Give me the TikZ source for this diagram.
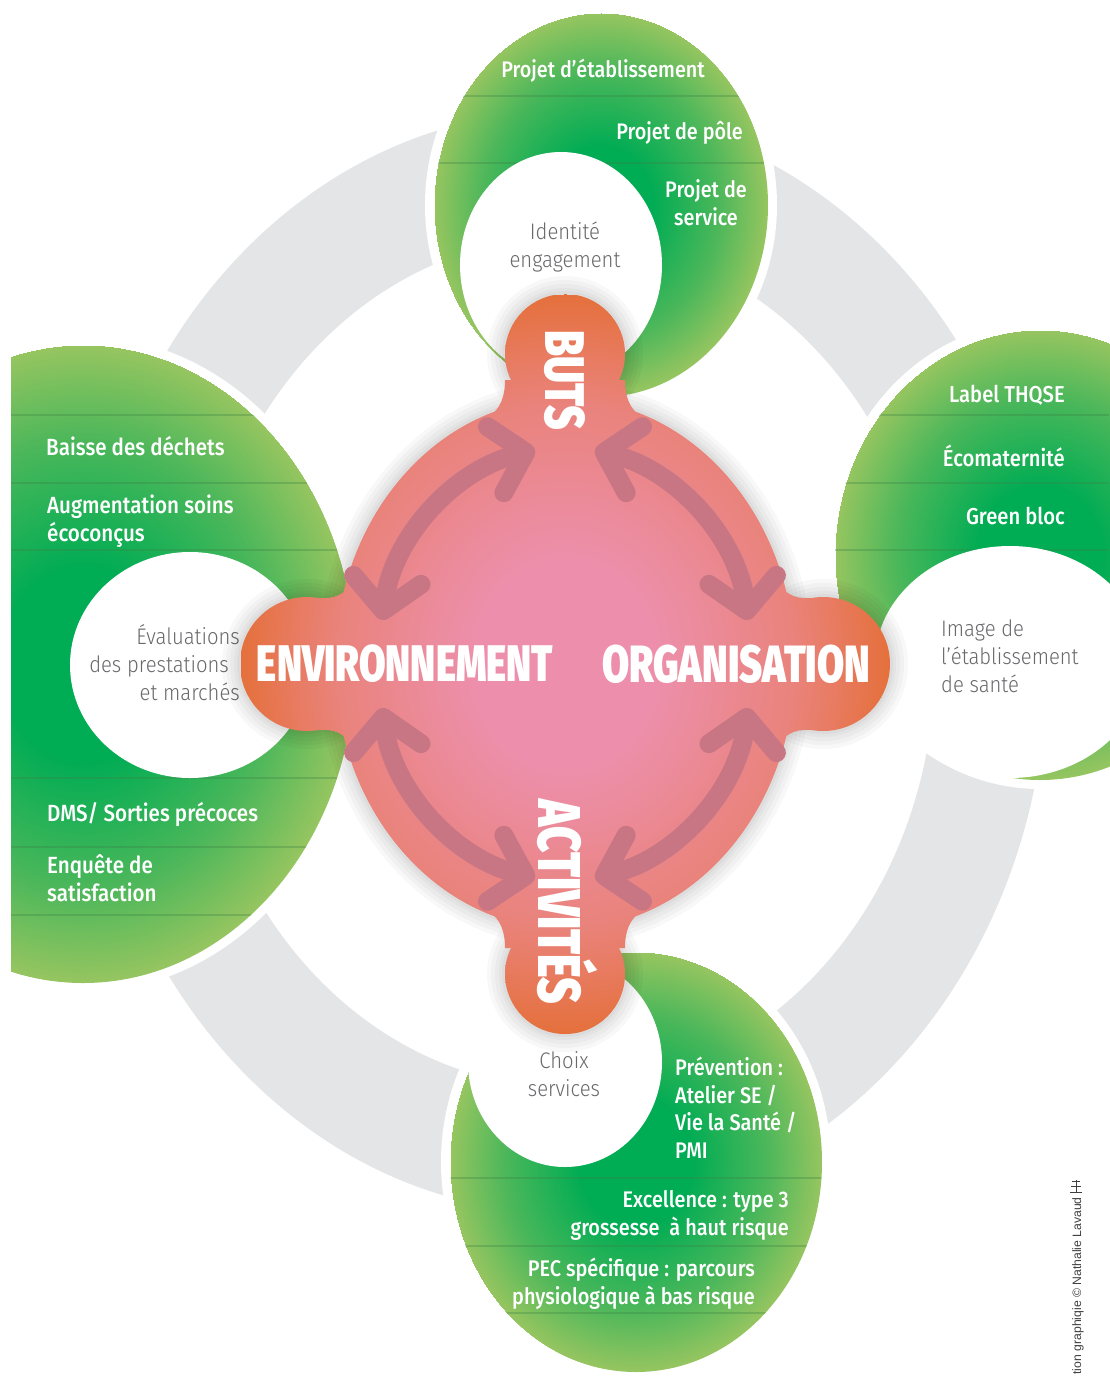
\documentclass[tikz,border=0pt]{standalone}
\usepackage{fontspec}
\usepackage{graphicx}
\usetikzlibrary{arrows.meta}
\setmainfont{Fira Sans}
\IfFontExistsTF{Fira Sans Light}{\newfontfamily\lightf{Fira Sans Light}[FakeStretch=0.9]}{\newfontfamily\lightf{Fira Sans}[FakeStretch=0.9]}
\IfFontExistsTF{Fira Sans Medium}{\newfontfamily\medf{Fira Sans Medium}[FakeStretch=0.88]}{\newfontfamily\medf{Fira Sans}[FakeStretch=0.88]}
\IfFontExistsTF{Fira Sans Black}
 {\newfontfamily\bigf{Fira Sans Black}[FakeStretch=0.75]\newcommand\bigsel{\bigf}}
 {\IfFontExistsTF{Fira Sans ExtraBold}
   {\newfontfamily\bigf{Fira Sans ExtraBold}[FakeStretch=0.76,FakeBold=1.5]\newcommand\bigsel{\bigf}}
   {\newfontfamily\bigf{Fira Sans}[FakeStretch=0.77,BoldFeatures={FakeBold=3}]\newcommand\bigsel{\bigf\bfseries}}}
\newfontfamily\credf{Liberation Sans}

\definecolor{ringgrey}{RGB}{228,229,231}
\definecolor{gdark}{RGB}{0,172,84}
\definecolor{gmid}{RGB}{75,183,90}
\definecolor{glight}{RGB}{150,197,96}
\definecolor{pk1}{RGB}{237,143,172}
\definecolor{pk2}{RGB}{233,131,124}
\definecolor{pk3}{RGB}{232,124,100}
\definecolor{pk4}{RGB}{229,112,60}
\definecolor{arrowc}{RGB}{201,118,132}
\definecolor{txtgrey}{RGB}{105,105,108}
\definecolor{divc}{RGB}{60,130,70}

\pgfdeclareradialshading{greenrad}{\pgfpoint{0bp}{0bp}}{color(0bp)=(gdark); color(15bp)=(gdark); color(35bp)=(gmid); color(50bp)=(glight)}
\pgfdeclareradialshading{pinkrad}{\pgfpoint{0bp}{0bp}}{color(0bp)=(pk1); color(14bp)=(pk1); color(35bp)=(pk2); color(41bp)=(pk3); color(50bp)=(pk4)}

\newcommand\softshadow[1]{\foreach \ww in {36,28,20,12,6}{\draw[black, draw opacity=0.028, line width=\ww pt] #1;}}
% pink piece: clip, then radial shading centred on the blob centre
\newcommand\pinkpiece[1]{\begin{scope}\clip #1;
  \begin{pgfscope}\pgftransformshift{\pgfpointxy{565}{664}}\pgftransformxscale{6.4757}\pgftransformyscale{7.3724}\pgflowlevelsynccm\pgfuseshading{pinkrad}\end{pgfscope}
  \end{scope}}
% green ellipse with radial shading: cx, cy, a, b
\newcommand\greenell[4]{\begin{scope}\clip (#1,#2) ellipse [x radius=#3, y radius=#4];
  \begin{pgfscope}\pgftransformshift{\pgfpointxy{#1}{#2}}%
  \pgfmathsetmacro\gsx{#3/50.1875}\pgfmathsetmacro\gsy{#4/50.1875}%
  \pgftransformxscale{\gsx}\pgftransformyscale{\gsy}\pgflowlevelsynccm\pgfuseshading{greenrad}\end{pgfscope}
  \end{scope}}

\tikzset{
  divider/.style={draw=divc, draw opacity=0.32, line width=1.3pt},
  gtxt/.style={text=white, inner sep=0pt, font=\medf\fontsize{#1}{#1}\selectfont},
  wtxt/.style={text=txtgrey, inner sep=0pt, font=\lightf\fontsize{22.5}{27}\selectfont},
  bigw/.style={text=white, inner sep=0pt, font=\bigsel\fontsize{60}{60}\selectfont},
  arr/.style={draw=arrowc, line width=19pt, {Straight Barb[length=31pt,width=68pt,round]}-{Straight Barb[length=31pt,width=68pt,round]}},
  gapwhite/.style={fill=white}
}

\begin{document}
\begin{tikzpicture}[x=1pt,y=-1pt]
\useasboundingbox (0,0) rectangle (1109,1376);
\fill[white] (0,0) rectangle (1109,1376);

% grey ring
\fill[ringgrey, even odd rule] (565,662) ellipse [x radius=482, y radius=551] (565,662) ellipse [x radius=370, y radius=425];

% ---------- top blob (BUTS)
\fill[gapwhite] (601,205) ellipse [x radius=176, y radius=201];
\greenell{601}{205}{167}{192}
\begin{scope}
  \clip (601,205) ellipse [x radius=167, y radius=192];
  \draw[divider] (420,96) -- (790,96) (420,163) -- (790,163);
\end{scope}
\fill[white] (561,265) ellipse [x radius=101, y radius=113];

% ---------- left blob (ENVIRONNEMENT)
\begin{scope}
  \clip (11,0) rectangle (1109,1376);
  \fill[gapwhite] (83,664) ellipse [x radius=281, y radius=328];
  \greenell{83}{664}{272}{319}
  \clip (83,664) ellipse [x radius=272, y radius=319];
  \draw[divider] (0,415) -- (400,415) (0,483) -- (400,483) (0,550) -- (400,550)
                 (0,778) -- (400,778) (0,847) -- (400,847) (0,915) -- (400,915);
\end{scope}
\fill[white] (190,665) ellipse [x radius=120, y radius=113];

% ---------- right blob (ORGANISATION)
\fill[gapwhite] (1040,555) ellipse [x radius=214, y radius=234];
\greenell{1040}{555}{205}{225}
\begin{scope}
  \clip (1040,555) ellipse [x radius=205, y radius=225];
  \draw[divider] (800,415) -- (1109,415) (800,483) -- (1109,483) (800,550) -- (1109,550);
\end{scope}
\fill[white] (1010,662) ellipse [x radius=135, y radius=116];

% ---------- bottom blob (ACTIVITES)
\fill[gapwhite] (636,1162) ellipse [x radius=195, y radius=219];
\greenell{636}{1162}{186}{210}
\begin{scope}
  \clip (636,1162) ellipse [x radius=186, y radius=210];
  \draw[divider] (440,1178) -- (830,1178) (440,1246) -- (830,1246) (440,1313) -- (830,1313);
\end{scope}
\fill[white] (565,1062) ellipse [x radius=97, y radius=105];

% ---------- green texts
\node[gtxt=22.5, anchor=base east] (p1) at (705,77) {Projet d’établissement};
\node[gtxt=22.5, anchor=base east] (p2) at (743,139) {Projet de pôle};
\node[gtxt=22.5, anchor=base] (p3) at (706,197) {Projet de};
\node[gtxt=22.5, anchor=base] (p4) at (706,225) {service};

\node[gtxt=23.4, anchor=base west] (l1) at (46,455) {Baisse des déchets};
\node[gtxt=23.4, anchor=base west] (l2) at (47,513) {Augmentation soins};
\node[gtxt=23.4, anchor=base west] (l3) at (47,541) {écoconçus};
\node[gtxt=23.4, anchor=base west] (l4) at (47,821) {DMS/ Sorties précoces};
\node[gtxt=23.4, anchor=base west] (l5) at (47,873) {Enquête de};
\node[gtxt=23.4, anchor=base west] (l6) at (47,901) {satisfaction};

\node[gtxt=23, anchor=base east] (r1) at (1065,402) {Label THQSE};
\node[gtxt=23, anchor=base east] (r2) at (1065,466) {Écomaternité};
\node[gtxt=23, anchor=base east] (r3) at (1065,524) {Green bloc};

\node[gtxt=22.6, anchor=base west] (b1) at (675,1075) {Prévention :};
\node[gtxt=22.6, anchor=base west] (b2) at (675,1103) {Atelier SE /};
\node[gtxt=22.6, anchor=base west] (b3) at (675,1130) {Vie la Santé /};
\node[gtxt=22.6, anchor=base west] (b4) at (675,1158) {PMI};
\node[gtxt=22.6, anchor=base east] (b5) at (789,1207) {Excellence : type 3};
\node[gtxt=22.6, anchor=base east] (b6) at (789,1235) {grossesse \ à haut risque};
\node[gtxt=22.6, anchor=base east] (b7) at (755,1276) {PEC spécifique : parcours};
\node[gtxt=22.6, anchor=base east] (b8) at (755,1304) {physiologique à bas risque};

% ---------- grey texts in white ellipses
\node[wtxt, anchor=base] (w1) at (565,239) {Identité};
\node[wtxt, anchor=base] (w2) at (565,267) {engagement};
\node[wtxt, anchor=base east] (w3) at (240,644) {Évaluations};
\node[wtxt, anchor=base east] (w4) at (229,672) {des prestations};
\node[wtxt, anchor=base east] (w5) at (240,700) {et marchés};
\node[wtxt, anchor=base west] (w6) at (941,636) {Image de};
\node[wtxt, anchor=base west] (w7) at (941,664) {l’établissement};
\node[wtxt, anchor=base west] (w8) at (941,692) {de santé};
\node[wtxt, anchor=base] (w9) at (564,1068) {Choix};
\node[wtxt, anchor=base] (w10) at (564,1096) {services};

% ---------- central pink blob
\softshadow{(565,664) ellipse [x radius=230, y radius=265]}
\softshadow{(565,354) circle [radius=60]}
\softshadow{(565,974) circle [radius=60]}
\softshadow{(307,664) circle [radius=67]}
\softshadow{(823,664) circle [radius=67]}

\pinkpiece{(565,664) ellipse [x radius=230, y radius=265]}
\pinkpiece{(565,354) circle [radius=60]}
\pinkpiece{(565,974) circle [radius=60]}
\pinkpiece{(307,664) circle [radius=67]}
\pinkpiece{(823,664) circle [radius=67]}
\pinkpiece{(505,380) .. controls (505,398) and (500,408) .. (490,416) -- (640,416) .. controls (630,408) and (625,398) .. (625,380) -- cycle}
\pinkpiece{(505,948) .. controls (505,930) and (500,920) .. (490,912) -- (640,912) .. controls (630,920) and (625,930) .. (625,948) -- cycle}
\pinkpiece{(318,598) .. controls (333,599) and (342,596) .. (352,584) -- (352,744) .. controls (342,732) and (333,729) .. (318,730) -- cycle}
\pinkpiece{(812,598) .. controls (797,599) and (788,596) .. (778,584) -- (778,744) .. controls (788,732) and (797,729) .. (812,730) -- cycle}

% ---------- arrows
\coordinate (tl1) at (535,450); \coordinate (tl2) at (382,620);
\coordinate (tr1) at (595,450); \coordinate (tr2) at (748,620);
\coordinate (bl1) at (382,708); \coordinate (bl2) at (535,878);
\coordinate (br1) at (748,708); \coordinate (br2) at (595,878);
\draw[arr] (tl1) .. controls (454,470) and (393,537) .. (tl2);
\draw[arr] (tr1) .. controls (676,470) and (737,537) .. (tr2);
\draw[arr] (bl1) .. controls (393,791) and (454,858) .. (bl2);
\draw[arr] (br1) .. controls (737,791) and (676,858) .. (br2);

% ---------- big words
\node[bigw] (env) at (405,664) {\resizebox{296pt}{!}{ENVIRONNEMENT}};
\node[bigw] (org) at (736,664) {\resizebox{268pt}{!}{ORGANISATION}};
\node[bigw, rotate=-90] (buts) at (565,380) {\resizebox{100pt}{!}{BUTS}};
\node[bigw, rotate=-90] (act) at (568,902) {\resizebox{205pt}{!}{ACTIVITÉS}};

% ---------- credit
\node[text=black!75, inner sep=0pt, font=\credf\fontsize{12.2}{12.2}\selectfont, rotate=90, anchor=base east] (credit) at (1081,1197) {tion graphiqie © Nathalie Lavaud};
\begin{scope}[draw=black!75, line width=1pt]
  \draw (1070,1192) -- (1082,1192) (1076,1192) -- (1076,1180) (1071,1186) -- (1081,1186) (1072,1181) -- (1080,1181);
\end{scope}
\end{tikzpicture}
\end{document}
